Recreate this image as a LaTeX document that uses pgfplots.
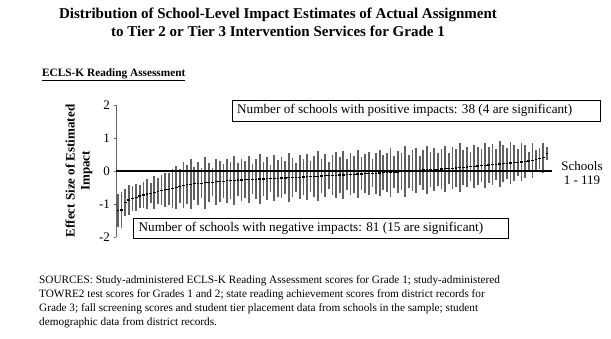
\documentclass[border=0pt]{standalone}
\usepackage{fontspec}
\setmainfont{Liberation Serif}
\usepackage{pgfplots}
\usepackage{pgfplotstable}
\pgfplotsset{compat=1.18}
\pgfplotstableread{
i est ci
1 -1.20 0.50
2 -1.18 0.55
3 -0.95 0.40
4 -0.88 0.45
5 -0.83 0.38
6 -0.80 0.42
7 -0.76 0.35
8 -0.73 0.40
9 -0.70 0.45
10 -0.67 0.30
11 -0.64 0.50
12 -0.61 0.40
13 -0.58 0.45
14 -0.57 0.52
15 -0.55 0.48
16 -0.53 0.58
17 -0.50 0.66
18 -0.46 0.52
19 -0.43 0.70
20 -0.41 0.58
21 -0.40 0.75
22 -0.39 0.50
23 -0.38 0.64
24 -0.37 0.46
25 -0.36 0.78
26 -0.35 0.60
27 -0.34 0.42
28 -0.33 0.70
29 -0.32 0.62
30 -0.31 0.52
31 -0.30 0.66
32 -0.29 0.56
33 -0.28 0.74
34 -0.27 0.50
35 -0.27 0.64
36 -0.26 0.55
37 -0.26 0.72
38 -0.25 0.46
39 -0.25 0.60
40 -0.24 0.76
41 -0.24 0.52
42 -0.23 0.64
43 -0.23 0.42
44 -0.22 0.70
45 -0.22 0.56
46 -0.21 0.62
47 -0.21 0.50
48 -0.20 0.74
49 -0.20 0.60
50 -0.19 0.44
51 -0.19 0.66
52 -0.18 0.55
53 -0.17 0.70
54 -0.17 0.48
55 -0.16 0.62
56 -0.16 0.76
57 -0.15 0.52
58 -0.14 0.64
59 -0.14 0.40
60 -0.13 0.60
61 -0.13 0.70
62 -0.12 0.55
63 -0.12 0.74
64 -0.11 0.46
65 -0.10 0.64
66 -0.10 0.56
67 -0.09 0.72
68 -0.09 0.50
69 -0.08 0.60
70 -0.08 0.66
71 -0.07 0.42
72 -0.07 0.62
73 -0.06 0.70
74 -0.05 0.52
75 -0.05 0.60
76 -0.04 0.74
77 -0.04 0.48
78 -0.03 0.64
79 -0.02 0.56
80 -0.02 0.78
81 -0.01 0.50
82 0.01 0.62
83 0.01 0.68
84 0.02 0.44
85 0.03 0.60
86 0.03 0.72
87 0.04 0.54
88 0.05 0.66
89 0.05 0.50
90 0.06 0.62
91 0.07 0.70
92 0.08 0.46
93 0.08 0.64
94 0.09 0.58
95 0.10 0.74
96 0.11 0.52
97 0.12 0.62
98 0.13 0.44
99 0.14 0.66
100 0.15 0.58
101 0.16 0.50
102 0.17 0.68
103 0.18 0.54
104 0.19 0.62
105 0.20 0.46
106 0.21 0.70
107 0.22 0.56
108 0.23 0.48
109 0.24 0.64
110 0.25 0.54
111 0.26 0.42
112 0.27 0.58
113 0.28 0.50
114 0.30 0.28
115 0.32 0.52
116 0.34 0.30
117 0.37 0.32
118 0.40 0.46
119 0.53 0.20
}\impacts
\begin{document}
\begin{tikzpicture}[x=1pt,y=1pt]
\useasboundingbox (0,0) rectangle (611,339);
% titles
\node[font=\bfseries\fontsize{15}{18}\selectfont, align=center] at (278,317)
  {Distribution of School-Level Impact Estimates of Actual Assignment\\to Tier 2 or Tier 3 Intervention Services for Grade 1};
\node[font=\bfseries\fontsize{11.3}{14}\selectfont, anchor=west, inner sep=0pt] at (42,264) {\underline{ECLS-K Reading Assessment}};
\begin{axis}[
  at={(116.5pt,102pt)}, anchor=south west, scale only axis,
  width=435.5pt, height=132pt,
  xmin=0.6, xmax=120.4, ymin=-2, ymax=2,
  axis x line=none, axis y line=left,
  y axis line style={-, black!60, line width=0.6pt},
  ytick={-2,-1,0,1,2},
  yticklabels={-2,-1,0,1,2},
  tick align=outside, major tick length=3pt,
  ytick style={black!60, line width=0.6pt},
  yticklabel style={font=\fontsize{13}{13}\selectfont},
  ylabel={Effect Size of Estimated\\Impact},
  ylabel style={font=\bfseries\fontsize{13}{15}\selectfont, align=center},
  clip=false,
]
\addplot[only marks, mark=-, mark size=1.4pt, mark options={black, line width=1.2pt},
  error bars/.cd, y dir=both, y explicit, error mark=none,
  error bar style={line width=1.7pt, color=black!62}]
  table[x=i, y=est, y error=ci] {\impacts};
\addplot[black, line width=1.6pt, mark=none] coordinates {(0.6,0) (120.4,0)};
\end{axis}
% annotation boxes
\draw[black, line width=0.6pt] (232.5,218) rectangle (600,239);
\node[anchor=west, font=\fontsize{13.2}{13}\selectfont, inner sep=0pt] at (237,228.5)
  {Number of schools with positive impacts: 38 (4 are significant)};
\draw[black, line width=0.6pt] (133.5,101) rectangle (508,121);
\node[anchor=west, font=\fontsize{13.2}{13}\selectfont, inner sep=0pt] at (138.5,111)
  {Number of schools with negative impacts: 81 (15 are significant)};
\node[align=center, font=\fontsize{13}{14}\selectfont] at (582,166) {Schools\\1 - 119};
% sources
\node[anchor=north west, align=left, inner sep=0pt, font=\fontsize{11.25}{14}\selectfont] at (39,64)
  {SOURCES: Study-administered ECLS-K Reading Assessment scores for Grade 1; study-administered\\
   TOWRE2 test scores for Grades 1 and 2; state reading achievement scores from district records for\\
   Grade 3; fall screening scores and student tier placement data from schools in the sample; student\\
   demographic data from district records.};
\end{tikzpicture}
\end{document}
